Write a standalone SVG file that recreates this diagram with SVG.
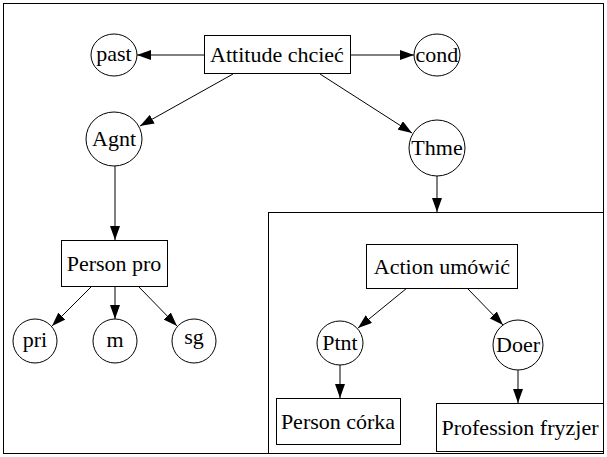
<svg xmlns="http://www.w3.org/2000/svg" width="607" height="457" viewBox="0 0 607 457" font-family="Liberation Serif" font-size="22">
<defs>
<marker id="ah" viewBox="0 0 14 10" refX="14" refY="5" markerWidth="14" markerHeight="10" markerUnits="userSpaceOnUse" orient="auto">
<path d="M0,0 L14,5 L0,10 Z" fill="#000"/>
</marker>
</defs>
<style>
.n{fill:#fff;stroke:#000;stroke-width:1}
text{font-family:"Liberation Serif",serif;font-size:22px;fill:#000;text-anchor:middle}
.e{stroke:#000;stroke-width:1;fill:none;marker-end:url(#ah)}
.frame{fill:none;stroke:#000;stroke-width:1}
</style>
<rect width="607" height="457" fill="#fff"/>
<rect class="frame" x="3.5" y="3.5" width="600" height="450"/>
<rect class="frame" x="268.5" y="212.5" width="335" height="241"/>
<g id="edges">
<line class="e" x1="204" y1="55" x2="137" y2="55"/>
<line class="e" x1="350" y1="55" x2="414" y2="55"/>
<line class="e" x1="233" y1="74" x2="140" y2="126"/>
<line class="e" x1="320" y1="74" x2="412" y2="133"/>
<line class="e" x1="115" y1="166" x2="115" y2="240"/>
<line class="e" x1="92" y1="286" x2="52" y2="326"/>
<line class="e" x1="115" y1="286" x2="115" y2="319"/>
<line class="e" x1="138" y1="286" x2="177" y2="326"/>
<line class="e" x1="437" y1="176" x2="437" y2="212"/>
<line class="e" x1="407" y1="288" x2="358" y2="328"/>
<line class="e" x1="467" y1="288" x2="503" y2="325"/>
<line class="e" x1="340" y1="365" x2="340" y2="398"/>
<line class="e" x1="518" y1="370" x2="518" y2="403"/>
</g>
<g id="attitude"><rect class="n" x="204.5" y="35.5" width="146" height="38"/><text x="277" y="62" font-family="Liberation Serif">Attitude chcieć</text></g>
<g id="past"><ellipse class="n" cx="114" cy="55" rx="23" ry="21"/><text x="114" y="61" font-family="Liberation Serif">past</text></g>
<g id="cond"><ellipse class="n" cx="437" cy="55" rx="23" ry="21"/><text x="437" y="62" font-family="Liberation Serif">cond</text></g>
<g id="agnt"><ellipse class="n" cx="114" cy="139" rx="28" ry="27"/><text x="114" y="146" font-family="Liberation Serif">Agnt</text></g>
<g id="thme"><ellipse class="n" cx="437" cy="148" rx="28" ry="28"/><text x="437" y="155" font-family="Liberation Serif">Thme</text></g>
<g id="personpro"><rect class="n" x="61.5" y="240.5" width="106" height="46"/><text x="114" y="271" font-family="Liberation Serif">Person pro</text></g>
<g id="pri"><ellipse class="n" cx="35" cy="341" rx="22" ry="22"/><text x="35" y="347" font-family="Liberation Serif">pri</text></g>
<g id="m"><ellipse class="n" cx="115" cy="341" rx="22" ry="22"/><text x="115" y="347" font-family="Liberation Serif">m</text></g>
<g id="sg"><ellipse class="n" cx="194" cy="341" rx="22" ry="22"/><text x="194" y="344" font-family="Liberation Serif">sg</text></g>
<g id="action"><rect class="n" x="366.5" y="244.5" width="151" height="44"/><text x="442" y="274" font-family="Liberation Serif">Action umówić</text></g>
<g id="ptnt"><ellipse class="n" cx="340" cy="343" rx="23" ry="22"/><text x="340" y="350" font-family="Liberation Serif">Ptnt</text></g>
<g id="doer"><ellipse class="n" cx="518" cy="345" rx="25" ry="25"/><text x="518" y="352" font-family="Liberation Serif">Doer</text></g>
<g id="personcorka"><rect class="n" x="276.5" y="398.5" width="124" height="46"/><text x="338" y="429" font-family="Liberation Serif">Person córka</text></g>
<g id="profession"><rect class="n" x="436.5" y="403.5" width="167" height="48"/><text x="520" y="435" font-family="Liberation Serif">Profession fryzjer</text></g>
</svg>
